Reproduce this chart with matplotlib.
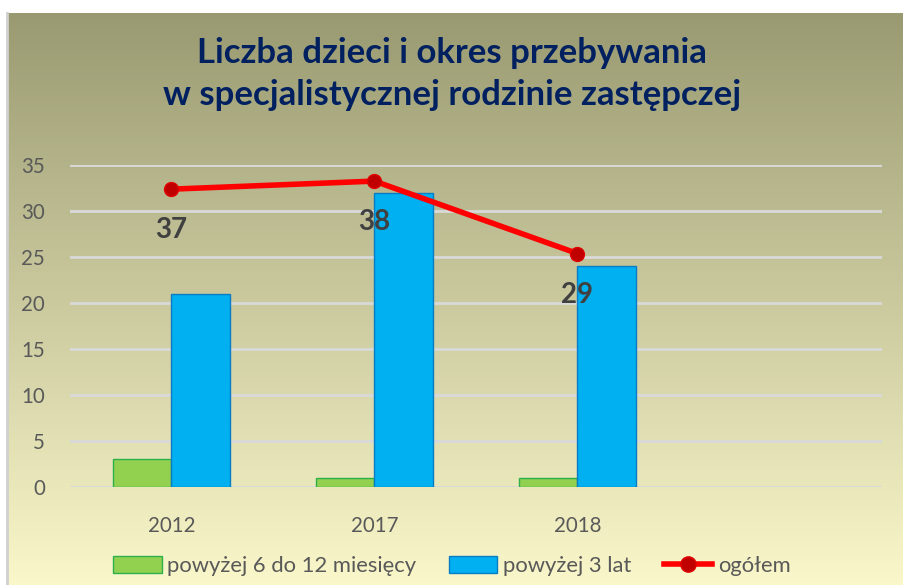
import numpy as np
import matplotlib.pyplot as plt
from matplotlib.lines import Line2D
from matplotlib.patches import Patch

# data
years = ['2012', '2017', '2018', '']
green_vals = [3, 1, 1]          # powyżej 6 do 12 miesięcy
blue_vals = [21, 32, 24]        # powyżej 3 lat
total_vals = [37, 38, 29]       # ogółem
yticks = [0, 5, 10, 15, 20, 25, 30, 35]

title = 'Liczba dzieci i okres przebywania\nw specjalistycznej rodzinie zastępczej'
font = 'Lato'
txt_grey = '#595959'

fig = plt.figure(figsize=(9.04, 5.85), dpi=100)
fig.patch.set_facecolor('white')

# gradient background of chart area
bg = fig.add_axes([0.0075, 0, 0.9925, 0.978])
top = np.array([154, 154, 114]) / 255
bot = np.array([250, 248, 202]) / 255
t = np.linspace(0, 1, 256)[:, None]
grad = top[None, :] * (1 - t) + bot[None, :] * t
bg.imshow(grad[:, None, :], aspect='auto', extent=[0, 1, 0, 1])
bg.axis('off')
fig.add_artist(Line2D([0.0075, 0.0075], [0, 0.978], color='#d0d0d0', lw=2))

ax = fig.add_axes([70 / 904, 1 - 487 / 585, 812 / 904, 322 / 585])
ax.patch.set_alpha(0)
x = np.arange(len(green_vals))
w = 0.286
ax.bar(x - w / 2, green_vals, w, color='#92D050', edgecolor='#2DB04B', lw=1,
       zorder=3, label='powyżej 6 do 12 miesięcy')
ax.bar(x + w / 2, blue_vals, w, color='#00B0F0', edgecolor='#0A7CC4', lw=1,
       zorder=3, label='powyżej 3 lat')
ax.set_xlim(-0.5, 3.5)
ax.set_ylim(0, 35)
ax.set_yticks(yticks)
ax.set_xticks(range(len(years)))
ax.set_xticklabels(years)
ax.grid(axis='y', color='#d9d9d9', lw=2, zorder=0)
for s in ax.spines.values():
    s.set_visible(False)
ax.tick_params(length=0, labelsize=14.8, labelcolor=txt_grey)
ax.tick_params(axis='y', pad=18)
ax.tick_params(axis='x', pad=21)
for lab in ax.get_xticklabels() + ax.get_yticklabels():
    lab.set_fontfamily(font)

ax2 = ax.twinx()
ax2.set_ylim(0, 40)
ax2.axis('off')
ax2.plot(x, total_vals, color='#FF0000', lw=4, marker='o', ms=10,
         mfc='#C00000', mec='#E00000', zorder=5)
for xi, v in zip(x, total_vals):
    ax2.annotate(str(v), (xi, v), xytext=(0, -29.5), textcoords='offset points',
                 ha='center', va='center', fontsize=20, fontweight='bold',
                 color='#404040', family=font)

fig.text(0.5, 1 - 74 / 585, title, ha='center', va='center', fontsize=25,
         fontweight='bold', color='#002060', family=font, linespacing=1.38)

handles = [Patch(facecolor='#92D050', edgecolor='#2DB04B'),
           Patch(facecolor='#00B0F0', edgecolor='#0A7CC4'),
           Line2D([], [], color='#FF0000', lw=4, marker='o', ms=11,
                  mfc='#C00000', mec='#E00000')]
labels = ['powyżej 6 do 12 miesięcy', 'powyżej 3 lat', 'ogółem']
leg = fig.legend(handles, labels, loc='center', bbox_to_anchor=(0.5, 1 - 566 / 585),
                 ncol=3, frameon=False, handlelength=2.2,
                 handleheight=0.85, columnspacing=1.5, handletextpad=0.25,
                 prop={'family': font, 'size': 15.8})
for tx in leg.get_texts():
    tx.set_color(txt_grey)

fig.savefig('out.png', dpi=100)
